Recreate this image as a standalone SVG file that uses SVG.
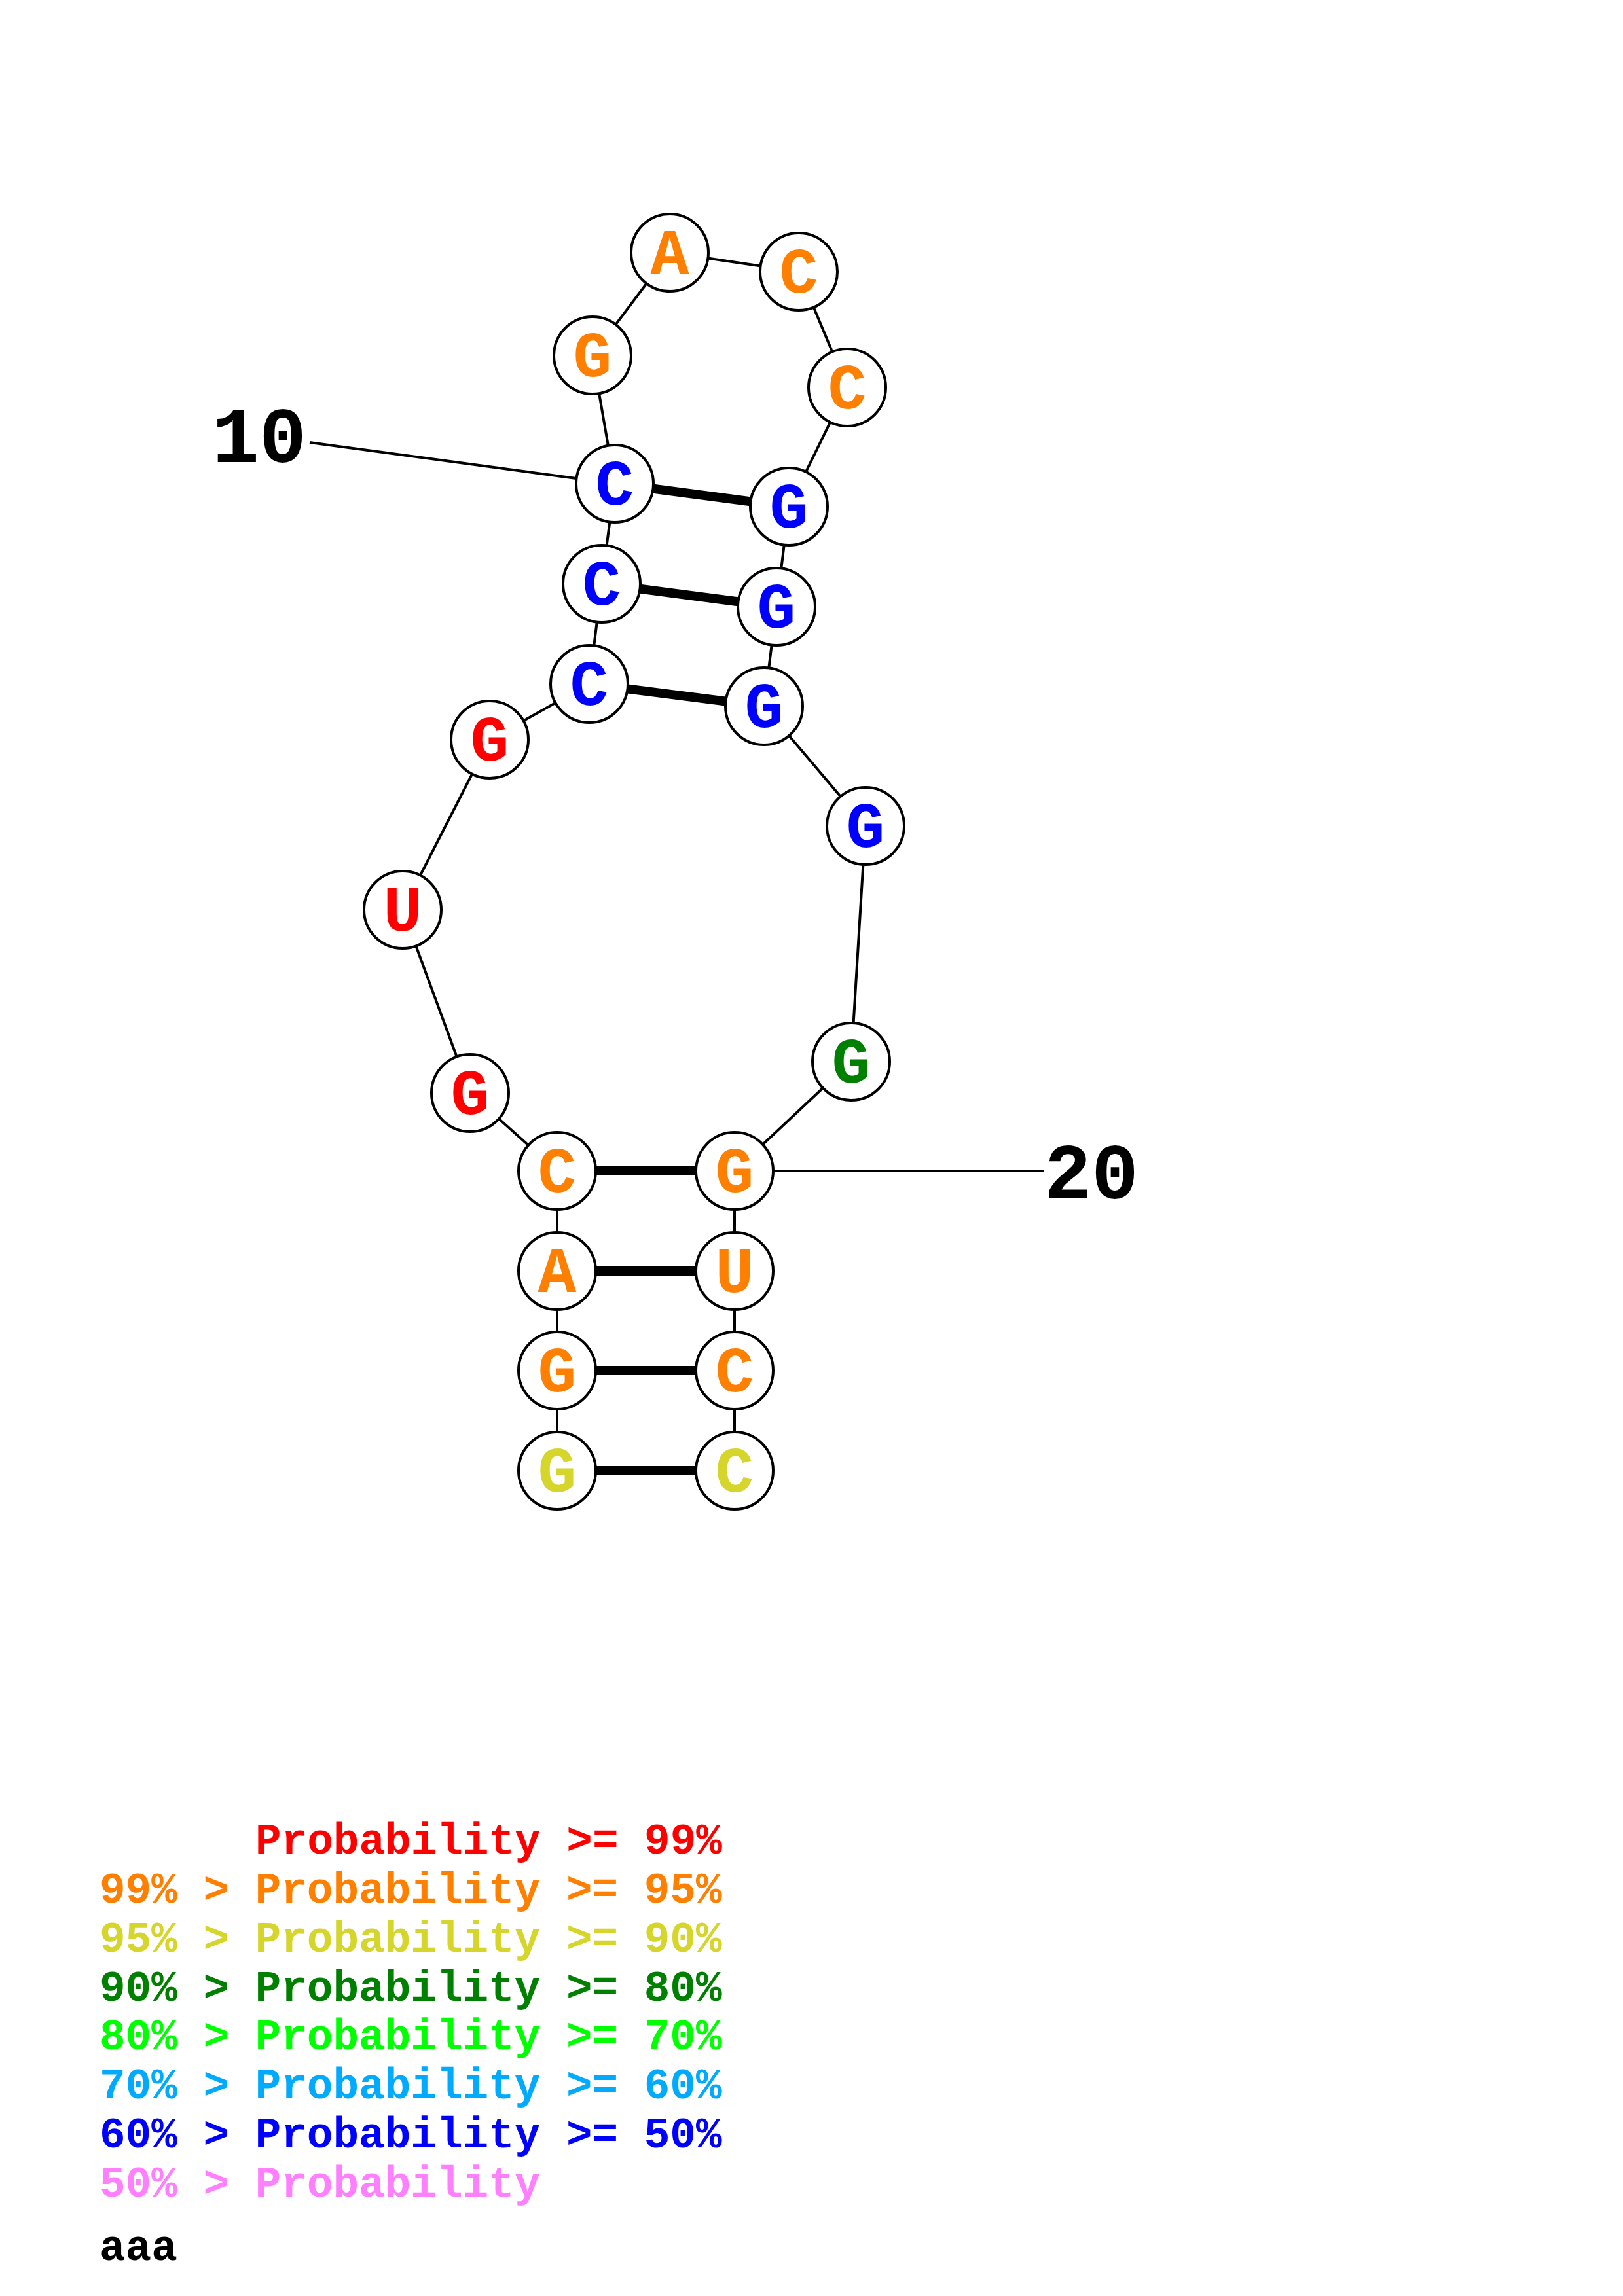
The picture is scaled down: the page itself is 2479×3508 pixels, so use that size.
<svg xmlns="http://www.w3.org/2000/svg" width="2479" height="3508" viewBox="0 0 2479 3508">
<style>
.bb{stroke:#000;stroke-width:4;fill:none}
.bp{stroke:#000;stroke-width:14;fill:none}
.nc{fill:#fff;stroke:#000;stroke-width:4}
.nt{font-family:"Liberation Mono","DejaVu Sans Mono",monospace;font-weight:bold;font-size:98px;text-anchor:middle}
.lab{font-family:"Liberation Mono","DejaVu Sans Mono",monospace;font-weight:bold;font-size:120px;fill:#000}
.lg{font-family:"Liberation Mono","DejaVu Sans Mono",monospace;font-weight:bold;font-size:66px;white-space:pre}
.r{fill:#ff0000}.o{fill:#ff8000}.y{fill:#d5d52b}.dg{fill:#008000}.lgr{fill:#00ff00}.sb{fill:#00aaff}.b{fill:#0000ff}.p{fill:#ff80ff}
</style>
<rect width="2479" height="3508" fill="#fff"/>
<g id="connectors">
<polyline class="bb" points="851,2247 851,2094 851,1942 851,1789 718,1670 615,1390 748,1130 900,1045 919,892 939,739 905,543 1023,386 1220,415 1294,592 1205,774 1186,927 1167,1079 1322,1262 1300,1622 1122,1789 1122,1942 1122,2094 1122,2247"/>
<line class="bp" x1="851" y1="2247" x2="1122" y2="2247"/>
<line class="bp" x1="851" y1="2094" x2="1122" y2="2094"/>
<line class="bp" x1="851" y1="1942" x2="1122" y2="1942"/>
<line class="bp" x1="851" y1="1789" x2="1122" y2="1789"/>
<line class="bp" x1="900" y1="1045" x2="1167" y2="1079"/>
<line class="bp" x1="919" y1="892" x2="1186" y2="927"/>
<line class="bp" x1="939" y1="739" x2="1205" y2="774"/>
<line class="bb" x1="473" y1="676" x2="939" y2="739"/>
<line class="bb" x1="1122" y1="1789" x2="1595" y2="1789"/>
</g>
<g id="n1"><circle class="nc" cx="851" cy="2247" r="59"/><text class="nt y" x="851" y="2279">G</text></g>
<g id="n2"><circle class="nc" cx="851" cy="2094" r="59"/><text class="nt o" x="851" y="2126">G</text></g>
<g id="n3"><circle class="nc" cx="851" cy="1942" r="59"/><text class="nt o" x="851" y="1974">A</text></g>
<g id="n4"><circle class="nc" cx="851" cy="1789" r="59"/><text class="nt o" x="851" y="1821">C</text></g>
<g id="n5"><circle class="nc" cx="718" cy="1670" r="59"/><text class="nt r" x="718" y="1702">G</text></g>
<g id="n6"><circle class="nc" cx="615" cy="1390" r="59"/><text class="nt r" x="615" y="1422">U</text></g>
<g id="n7"><circle class="nc" cx="748" cy="1130" r="59"/><text class="nt r" x="748" y="1162">G</text></g>
<g id="n8"><circle class="nc" cx="900" cy="1045" r="59"/><text class="nt b" x="900" y="1077">C</text></g>
<g id="n9"><circle class="nc" cx="919" cy="892" r="59"/><text class="nt b" x="919" y="924">C</text></g>
<g id="n10"><circle class="nc" cx="939" cy="739" r="59"/><text class="nt b" x="939" y="771">C</text></g>
<g id="n11"><circle class="nc" cx="905" cy="543" r="59"/><text class="nt o" x="905" y="575">G</text></g>
<g id="n12"><circle class="nc" cx="1023" cy="386" r="59"/><text class="nt o" x="1023" y="418">A</text></g>
<g id="n13"><circle class="nc" cx="1220" cy="415" r="59"/><text class="nt o" x="1220" y="447">C</text></g>
<g id="n14"><circle class="nc" cx="1294" cy="592" r="59"/><text class="nt o" x="1294" y="624">C</text></g>
<g id="n15"><circle class="nc" cx="1205" cy="774" r="59"/><text class="nt b" x="1205" y="806">G</text></g>
<g id="n16"><circle class="nc" cx="1186" cy="927" r="59"/><text class="nt b" x="1186" y="959">G</text></g>
<g id="n17"><circle class="nc" cx="1167" cy="1079" r="59"/><text class="nt b" x="1167" y="1111">G</text></g>
<g id="n18"><circle class="nc" cx="1322" cy="1262" r="59"/><text class="nt b" x="1322" y="1294">G</text></g>
<g id="n19"><circle class="nc" cx="1300" cy="1622" r="59"/><text class="nt dg" x="1300" y="1654">G</text></g>
<g id="n20"><circle class="nc" cx="1122" cy="1789" r="59"/><text class="nt o" x="1122" y="1821">G</text></g>
<g id="n21"><circle class="nc" cx="1122" cy="1942" r="59"/><text class="nt o" x="1122" y="1974">U</text></g>
<g id="n22"><circle class="nc" cx="1122" cy="2094" r="59"/><text class="nt o" x="1122" y="2126">C</text></g>
<g id="n23"><circle class="nc" cx="1122" cy="2247" r="59"/><text class="nt y" x="1122" y="2279">C</text></g>
<g id="labels">
<text class="lab" x="468" y="706" text-anchor="end">10</text>
<text class="lab" x="1595" y="1831">20</text>
</g>
<g id="legend">
<text class="lg r" x="390" y="2832">Probability &gt;= 99%</text>
<text class="lg o" x="152" y="2907">99% &gt; Probability &gt;= 95%</text>
<text class="lg y" x="152" y="2982">95% &gt; Probability &gt;= 90%</text>
<text class="lg dg" x="152" y="3057">90% &gt; Probability &gt;= 80%</text>
<text class="lg lgr" x="152" y="3131">80% &gt; Probability &gt;= 70%</text>
<text class="lg sb" x="152" y="3206">70% &gt; Probability &gt;= 60%</text>
<text class="lg b" x="152" y="3281">60% &gt; Probability &gt;= 50%</text>
<text class="lg p" x="152" y="3356">50% &gt; Probability</text>
<text class="lg" x="152" y="3453" fill="#000">aaa</text>
</g>
</svg>
